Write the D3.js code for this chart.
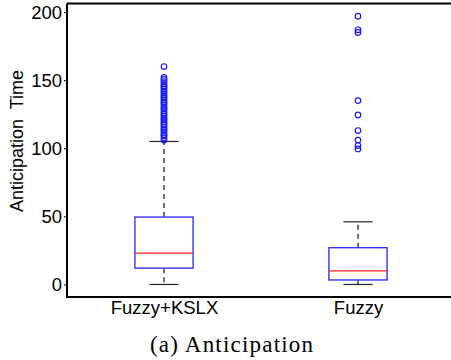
<!DOCTYPE html>
<html>
<head>
<meta charset="utf-8">
<script src="https://cdn.jsdelivr.net/npm/d3@7"></script>
<style>
  body { margin: 0; background: #fff; }
  svg { display: block; }
</style>
</head>
<body>
<svg id="chart" width="451" height="360"></svg>
<script>
// Box statistics
const groups = ["Fuzzy+KSLX", "Fuzzy"];
const lowerWhisker = [0, 0];
const q1 = [12, 3.3];
const median = [23, 10];
const q3 = [49.5, 27];
const upperWhisker = [105, 46];

// Outliers per group
const outliersKSLX = [106, 107.5, 109, 110, 111.5, 113, 114, 115.5, 117, 118, 119.5, 121, 122, 123.5,
    125, 126, 127.5, 129, 130, 131.5, 133, 134, 135.5, 137, 138, 139.5, 141, 142, 143.5, 145,
    146, 147.5, 149, 150.5, 152, 160];
const outliersFuzzy = [197, 187, 185, 135, 124.5, 113, 106, 102, 99.5];
const outliers = [outliersKSLX, outliersFuzzy];

const yTicks = [0, 50, 100, 150, 200];

const margin = { top: 3.5, right: -4, bottom: 63, left: 67 };
const width = 451 - margin.left - margin.right;
const height = 360 - margin.top - margin.bottom;

const svg = d3.select("#chart");
const g = svg.append("g")
    .attr("transform", `translate(${margin.left},${margin.top})`);

// x: groups sit at 1 and 2, limits 0.5..2.5
const x = d3.scaleLinear().domain([0.5, 2.5]).range([0, width]);
const y = d3.scaleLinear().domain([-9.2, 206.3]).range([height, 0]);

const boxW = 0.3, capW = 0.15;

groups.forEach((name, i) => {
    const c = x(i + 1);
    const bw = x(1 + boxW) - x(1);
    const cw = x(1 + capW) - x(1);

    // whiskers (dashed)
    g.append("line")
        .attr("x1", c).attr("x2", c)
        .attr("y1", y(q3[i])).attr("y2", y(upperWhisker[i]))
        .attr("stroke", "#444").attr("stroke-width", 1.5)
        .attr("stroke-dasharray", "5,4");
    g.append("line")
        .attr("x1", c).attr("x2", c)
        .attr("y1", y(q1[i])).attr("y2", y(lowerWhisker[i]))
        .attr("stroke", "#444").attr("stroke-width", 1.5)
        .attr("stroke-dasharray", "5,4");

    // caps
    [upperWhisker[i], lowerWhisker[i]].forEach(v => {
        g.append("line")
            .attr("x1", c - cw / 2).attr("x2", c + cw / 2)
            .attr("y1", y(v)).attr("y2", y(v))
            .attr("stroke", "#222").attr("stroke-width", 1.2);
    });

    // box
    g.append("rect")
        .attr("x", c - bw / 2)
        .attr("y", y(q3[i]))
        .attr("width", bw)
        .attr("height", y(q1[i]) - y(q3[i]))
        .attr("fill", "none")
        .attr("stroke", "#3333ff")
        .attr("stroke-width", 1.4);

    // median
    g.append("line")
        .attr("x1", c - bw / 2).attr("x2", c + bw / 2)
        .attr("y1", y(median[i])).attr("y2", y(median[i]))
        .attr("stroke", "#ff2020").attr("stroke-width", 1.2);

    // outliers
    g.selectAll(null)
        .data(outliers[i])
        .join("circle")
        .attr("cx", c)
        .attr("cy", d => y(d))
        .attr("r", 2.8)
        .attr("fill", "none")
        .attr("stroke", "#1a1aff")
        .attr("stroke-width", 1.2);
});

// axes
const yAxis = g.append("g")
    .call(d3.axisLeft(y).tickValues(yTicks).tickSize(3).tickPadding(2));
yAxis.select(".domain").remove();
yAxis.selectAll("line").attr("stroke", "#000");
yAxis.selectAll("text")
    .attr("font-family", "Liberation Sans, Arial, sans-serif")
    .attr("font-size", 18.5)
    .attr("fill", "#000");

const xAxis = g.append("g")
    .attr("transform", `translate(0,${height})`)
    .call(d3.axisBottom(x).tickValues([1, 2]).tickSize(0).tickPadding(4)
        .tickFormat(d => groups[d - 1]));
xAxis.select(".domain").remove();
xAxis.selectAll("text")
    .attr("font-family", "Liberation Sans, Arial, sans-serif")
    .attr("font-size", 18.5)
    .attr("fill", "#000");

// frame: left, bottom, top
g.append("path")
    .attr("d", `M0,0V${height}H${width}`)
    .attr("fill", "none").attr("stroke", "#000").attr("stroke-width", 2);
g.append("line")
    .attr("x1", 0).attr("x2", width).attr("y1", 0).attr("y2", 0)
    .attr("stroke", "#000").attr("stroke-width", 2);

// y label
svg.append("text")
    .attr("transform", "translate(23,141) rotate(-90)")
    .attr("text-anchor", "middle")
    .attr("font-family", "Liberation Sans, Arial, sans-serif")
    .attr("font-size", 18)
    .attr("xml:space", "preserve")
    .style("white-space", "pre")
    .text("Anticipation  Time");

// caption
svg.append("text")
    .attr("x", 231.5)
    .attr("y", 352)
    .attr("text-anchor", "middle")
    .attr("font-family", "Liberation Serif, Times New Roman, serif")
    .attr("font-size", 23)
    .attr("textLength", 163)
    .attr("lengthAdjust", "spacing")
    .text("(a) Anticipation");
</script>
</body>
</html>
